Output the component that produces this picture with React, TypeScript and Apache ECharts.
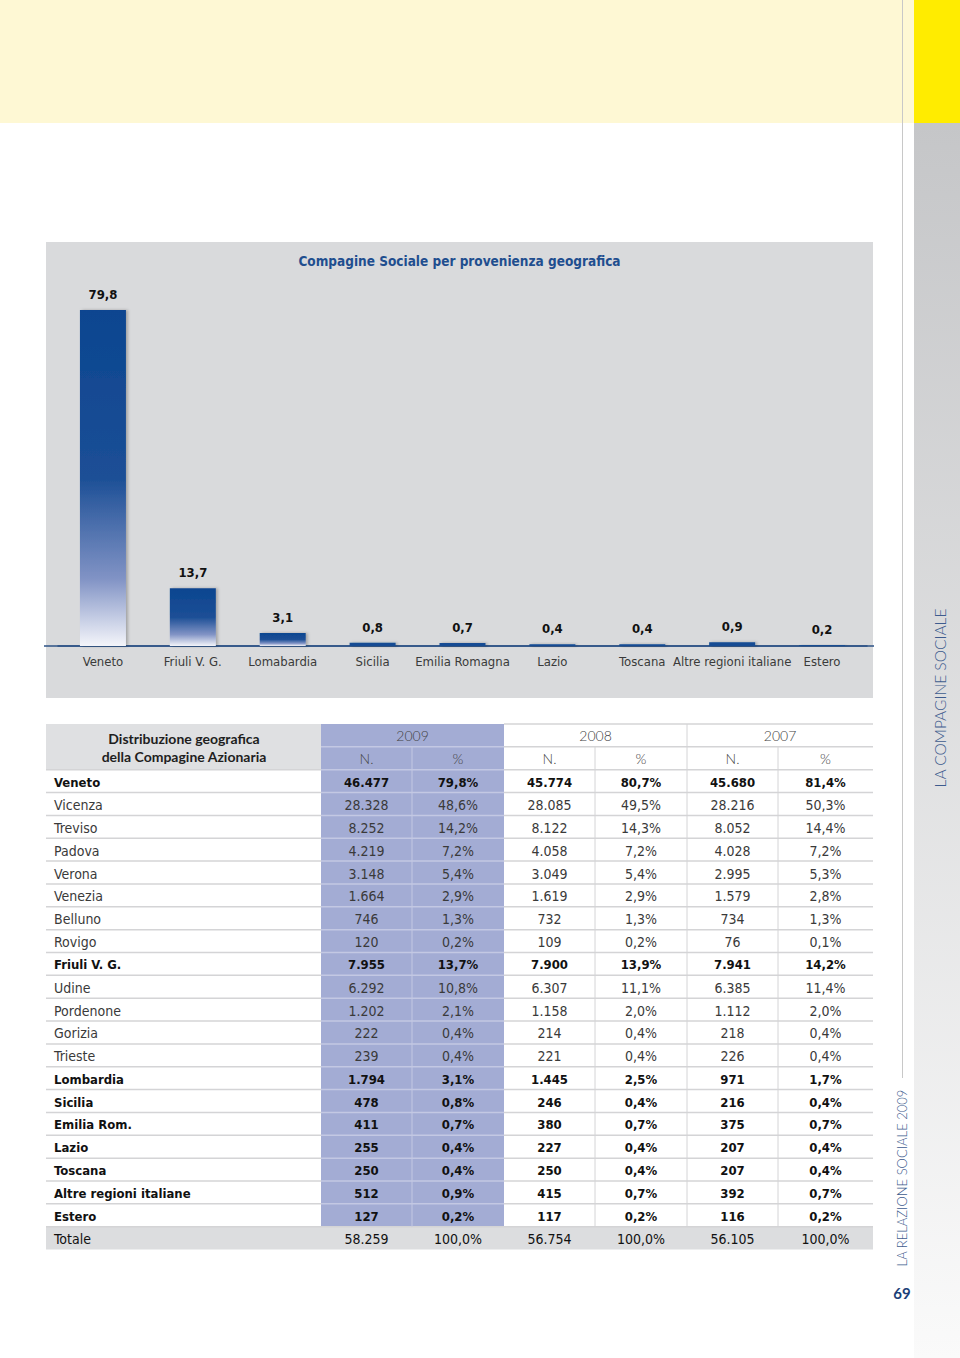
import React, { useEffect, useRef } from "react";
import * as echarts from "echarts";

// ---------- DATA ----------
const chartTitle = "Compagine Sociale per provenienza geografica";
const chartCategories = [
  "Veneto",
  "Friuli V. G.",
  "Lomabardia",
  "Sicilia",
  "Emilia Romagna",
  "Lazio",
  "Toscana",
  "Altre regioni italiane",
  "Estero",
];
const chartValues = [79.8, 13.7, 3.1, 0.8, 0.7, 0.4, 0.4, 0.9, 0.2];

const tableRegions = [
  "Veneto", "Vicenza", "Treviso", "Padova", "Verona", "Venezia", "Belluno", "Rovigo",
  "Friuli V. G.", "Udine", "Pordenone", "Gorizia", "Trieste",
  "Lombardia", "Sicilia", "Emilia Rom.", "Lazio", "Toscana", "Altre regioni italiane", "Estero",
  "Totale",
];
const mainRegions = [
  "Veneto", "Friuli V. G.", "Lombardia", "Sicilia", "Emilia Rom.", "Lazio", "Toscana",
  "Altre regioni italiane", "Estero",
];
const years = ["2009", "2008", "2007"];
const n2009 = [46477, 28328, 8252, 4219, 3148, 1664, 746, 120, 7955, 6292, 1202, 222, 239, 1794, 478, 411, 255, 250, 512, 127, 58259];
const p2009 = [79.8, 48.6, 14.2, 7.2, 5.4, 2.9, 1.3, 0.2, 13.7, 10.8, 2.1, 0.4, 0.4, 3.1, 0.8, 0.7, 0.4, 0.4, 0.9, 0.2, 100.0];
const n2008 = [45774, 28085, 8122, 4058, 3049, 1619, 732, 109, 7900, 6307, 1158, 214, 221, 1445, 246, 380, 227, 250, 415, 117, 56754];
const p2008 = [80.7, 49.5, 14.3, 7.2, 5.4, 2.9, 1.3, 0.2, 13.9, 11.1, 2.0, 0.4, 0.4, 2.5, 0.4, 0.7, 0.4, 0.4, 0.7, 0.2, 100.0];
const n2007 = [45680, 28216, 8052, 4028, 2995, 1579, 734, 76, 7941, 6385, 1112, 218, 226, 971, 216, 375, 207, 207, 392, 116, 56105];
const p2007 = [81.4, 50.3, 14.4, 7.2, 5.3, 2.8, 1.3, 0.1, 14.2, 11.4, 2.0, 0.4, 0.4, 1.7, 0.4, 0.7, 0.4, 0.4, 0.7, 0.2, 100.0];

// ---------- HELPERS ----------
const fmtInt = (n: number) => String(n).replace(/\B(?=(\d{3})+(?!\d))/g, ".");
const fmtPct = (p: number) => p.toFixed(1).replace(".", ",") + "%";
const fmtDec = (p: number) => p.toFixed(1).replace(".", ",");

const NARROW = "'Liberation Sans Narrow', 'DejaVu Sans Condensed', 'Noto Sans', sans-serif";
const HUMAN = "Lato, 'Open Sans', sans-serif";

function buildGraphics() {
  const g: any[] = [];
  // page decoration
  g.push({ type: "rect", z: 0, shape: { x: 0, y: 0, width: 914, height: 123 }, style: { fill: "#fef8d4" } });
  g.push({ type: "rect", z: 0, shape: { x: 914, y: 0, width: 46, height: 123 }, style: { fill: "#ffec00" } });
  g.push({
    type: "rect", z: 0, shape: { x: 914, y: 123, width: 46, height: 1235 },
    style: {
      fill: new echarts.graphic.LinearGradient(0, 0, 0, 1, [
        { offset: 0, color: "#c5c6c8" },
        { offset: 1, color: "#fafafa" },
      ]),
    },
  });
  g.push({ type: "line", z: 1, shape: { x1: 902.5, y1: 0, x2: 902.5, y2: 1078 }, style: { stroke: "#c8c8c8", lineWidth: 1 } });
  g.push({
    type: "text", z: 1, x: 940, y: 698, rotation: Math.PI / 2,
    style: { text: "LA COMPAGINE SOCIALE", textAlign: "center", textVerticalAlign: "middle", fontSize: 15.5, fontFamily: HUMAN, fontWeight: 300, fill: "#3e5c8e" },
  });
  g.push({
    type: "text", z: 1, x: 902, y: 1178, rotation: Math.PI / 2,
    style: { text: "LA RELAZIONE SOCIALE 2009", textAlign: "center", textVerticalAlign: "middle", fontSize: 13, fontFamily: HUMAN, fontWeight: 300, fill: "#3e5c8e" },
  });
  g.push({
    type: "text", z: 1, x: 902, y: 1293,
    style: { text: "69", textAlign: "center", textVerticalAlign: "middle", fontSize: 15, fontFamily: HUMAN, fontWeight: "bold", fill: "#1c3f78" },
  });

  // chart panel
  g.push({ type: "rect", z: 0, shape: { x: 46, y: 242, width: 827, height: 456 }, style: { fill: "#d9dadc" } });
  g.push({ type: "line", z: 1, shape: { x1: 44, y1: 646, x2: 874, y2: 646 }, style: { stroke: "#2d5286", lineWidth: 1.5 } });

  // table
  const left = 46, right = 873, labRight = 321;
  const colX = [321, 412, 504, 595, 687, 778, 873];
  const top = 724, rowH = 22.85;
  const nRows = tableRegions.length;
  const dataTop = top + 2 * rowH;
  const totTop = dataTop + (nRows - 1) * rowH;

  g.push({ type: "rect", z: 0, shape: { x: left, y: top, width: labRight - left, height: 2 * rowH }, style: { fill: "#dfe0e2" } });
  g.push({ type: "rect", z: 0, shape: { x: colX[0], y: top, width: colX[2] - colX[0], height: totTop - top }, style: { fill: "#a3acd4" } });
  g.push({ type: "rect", z: 0, shape: { x: left, y: totTop, width: right - left, height: rowH }, style: { fill: "#dcdddf" } });

  const hl = (x1: number, x2: number, y: number, c: string) =>
    g.push({ type: "line", z: 1, shape: { x1, y1: y, x2, y2: y }, style: { stroke: c, lineWidth: 1.5 } });
  const vl = (x: number, y1: number, y2: number, c: string) =>
    g.push({ type: "line", z: 1, shape: { x1: x, y1, x2: x, y2 }, style: { stroke: c, lineWidth: 1 } });

  const GRAY = "#d4d4d6", LAV = "#c3c8e3";
  hl(colX[2], right, top, GRAY);
  hl(colX[2], right, top + rowH, GRAY);
  hl(colX[0], colX[2], top + rowH, LAV);
  for (let i = 0; i < nRows; i++) {
    const y = dataTop + i * rowH;
    hl(left, labRight, y, GRAY);
    hl(colX[2], right, y, GRAY);
    hl(colX[0], colX[2], y, i === nRows - 1 ? GRAY : LAV);
  }
  vl(colX[1], top + rowH, totTop, LAV);
  vl(colX[3], top + rowH, totTop, GRAY);
  vl(colX[4], top, totTop, GRAY);
  vl(colX[5], top + rowH, totTop, GRAY);

  const txt = (text: string, x: number, y: number, align: string, weight: any, size: number, family: string, fill: string) =>
    g.push({
      type: "text", z: 3, x, y,
      style: { text, textAlign: align, textVerticalAlign: "middle", fontSize: size, fontWeight: weight, fontFamily: family, fill },
    });

  txt("Distribuzione geografica", 184, 738, "center", "bold", 14, HUMAN, "#1e1e1e");
  txt("della Compagine Azionaria", 184, 756, "center", "bold", 14, HUMAN, "#1e1e1e");
  years.forEach((yr, k) => {
    const x1 = colX[2 * k], x2 = colX[2 * k + 2];
    txt(yr, (x1 + x2) / 2, top + rowH / 2, "center", 300, 14, HUMAN, "#444");
    txt("N.", (colX[2 * k] + colX[2 * k + 1]) / 2, top + 1.5 * rowH, "center", 300, 14, HUMAN, "#444");
    txt("%", (colX[2 * k + 1] + colX[2 * k + 2]) / 2, top + 1.5 * rowH, "center", 300, 14, HUMAN, "#444");
  });

  const cols = [n2009, p2009, n2008, p2008, n2007, p2007];
  tableRegions.forEach((name, i) => {
    const y = dataTop + i * rowH + rowH / 2 + 1;
    const isMain = mainRegions.indexOf(name) >= 0;
    const isTot = i === nRows - 1;
    const weight = isMain ? "bold" : "normal";
    const size = isMain ? 13 : 14;
    const fill = isMain || isTot ? "#111111" : "#3a3a3a";
    txt(name, 54, y, "left", weight, size, NARROW, fill);
    cols.forEach((arr, c) => {
      const v = c % 2 === 0 ? fmtInt(arr[i]) : fmtPct(arr[i]);
      txt(v, (colX[c] + colX[c + 1]) / 2, y, "center", weight, size, NARROW, fill);
    });
  });

  // chart title
  g.push({
    type: "text", z: 3, x: 459.5, y: 261,
    style: { text: chartTitle, textAlign: "center", textVerticalAlign: "middle", fontSize: 13.5, fontWeight: "bold", fontFamily: NARROW, fill: "#1f4e8f" },
  });
  return g;
}

const tallGradient = new echarts.graphic.LinearGradient(0, 0, 0, 1, [
  { offset: 0, color: "#0b4590" },
  { offset: 0.5, color: "#1c4f96" },
  { offset: 0.8, color: "#8193c5" },
  { offset: 1, color: "#f4f5fa" },
]);

export default function App() {
  const ref = useRef<HTMLDivElement>(null);
  useEffect(() => {
    if (!ref.current) return;
    const chart = echarts.init(ref.current, null, { renderer: "svg", width: 960, height: 1358 });
    chart.setOption({
      animation: false,
      backgroundColor: "#ffffff",
      grid: { left: 58, right: 93, top: 267, bottom: 712, containLabel: false },
      xAxis: {
        type: "category",
        data: chartCategories,
        axisLine: { show: true, lineStyle: { color: "#2d5286", width: 1.5 } },
        axisTick: { show: false },
        axisLabel: { interval: 0, margin: 9, fontSize: 13, color: "#3a3a3a", fontFamily: NARROW },
      },
      yAxis: { type: "value", min: 0, max: 90, show: false, splitLine: { show: false } },
      graphic: buildGraphics(),
      series: [
        {
          type: "bar",
          barWidth: 46,
          z: 5,
          data: chartValues.map((v) => ({
            value: v,
            itemStyle: {
              color: v > 2 ? tallGradient : "#134b93",
              shadowColor: "rgba(0,0,0,0.25)",
              shadowBlur: 3,
              shadowOffsetX: 2,
            },
          })),
          label: {
            show: true,
            position: "top",
            distance: 9,
            formatter: (p: any) => fmtDec(p.value),
            fontSize: 13,
            fontWeight: "bold",
            color: "#111",
            fontFamily: NARROW,
          },
        },
      ],
    });
    return () => chart.dispose();
  }, []);
  return <div ref={ref} style={{ position: "absolute", left: 0, top: 0, width: 960, height: 1358 }} />;
}
